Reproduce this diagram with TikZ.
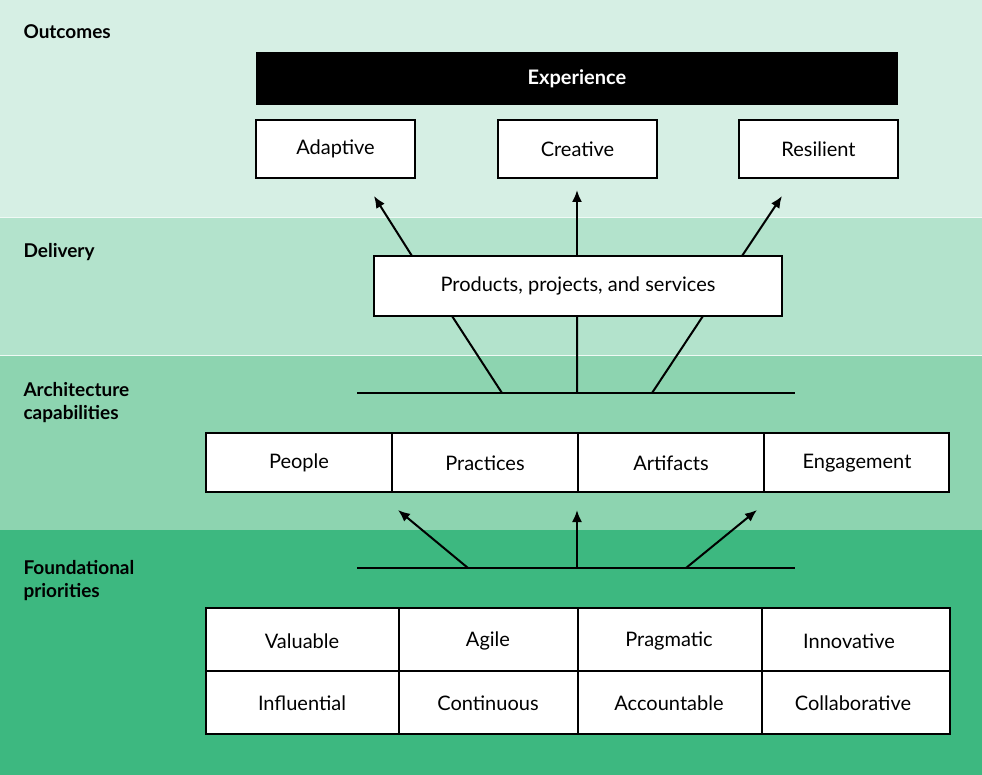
\documentclass[tikz,border=0pt]{standalone}
\usepackage{fontspec}
\setmainfont{Lato}
\usetikzlibrary{arrows.meta}
\definecolor{bandA}{HTML}{D6EFE4}
\definecolor{bandB}{HTML}{B3E3CC}
\definecolor{bandC}{HTML}{8DD4B0}
\definecolor{bandD}{HTML}{3DB880}
\begin{document}
\begin{tikzpicture}[x=1pt,y=-1pt,
  box/.style={draw=black,line width=1.6pt,fill=white,font=\fontsize{20}{24}\selectfont},
  lbl/.style={anchor=west,font=\bfseries\fontsize{19}{23}\selectfont,align=left},
  ln/.style={line width=2pt},
  arr/.style={line width=2pt,-{Latex[length=12pt,width=10pt]}},
  cell/.style={font=\fontsize{20}{24}\selectfont}]
\useasboundingbox (0,0) rectangle (982,775);
\fill[bandA] (0,0) rectangle (982,217);
\fill[bandB] (0,217) rectangle (982,355);
\fill[bandC] (0,355) rectangle (982,530);
\fill[bandD] (0,530) rectangle (982,775);
\draw[white!80!bandB,line width=0.8pt] (0,217)--(982,217) (0,355)--(982,355);

\node[lbl] (l1) at (20,32) {Outcomes};
\node[lbl] (l2) at (20,252) {Delivery};
\node[lbl,text width=160pt] (l3) at (20,403) {Architecture\\capabilities};
\node[lbl,text width=160pt] (l4) at (20,581) {Foundational\\priorities};

\node[fill=black,minimum width=642pt,minimum height=53pt,inner sep=0pt,text=white,font=\bfseries\fontsize{20}{24}\selectfont] (exp) at (577,78.5) {Experience};
\node[box,minimum width=159pt,minimum height=58pt,inner sep=0pt] (ad) at (335.5,149) {Adaptive};
\node[box,minimum width=159pt,minimum height=58pt,inner sep=0pt] (cr) at (577.5,149) {Creative};
\node[box,minimum width=159pt,minimum height=58pt,inner sep=0pt] (re) at (818.5,149) {Resilient};
\node[box,minimum width=408pt,minimum height=60pt,inner sep=0pt] (pp) at (578,286) {Products, projects, and services};

\coordinate (a1) at (412,256); \coordinate (a1e) at (374,196);
\coordinate (a2) at (577,256); \coordinate (a2e) at (577,190);
\coordinate (a3) at (742,256); \coordinate (a3e) at (782,196);
\draw[arr] (a1)--(a1e); \draw[arr] (a2)--(a2e); \draw[arr] (a3)--(a3e);

\coordinate (h1l) at (357,393); \coordinate (h1r) at (795,393);
\draw[ln] (h1l)--(h1r);
\draw[ln] (502,393)--(452,316) (577,393)--(577,316) (652,393)--(703,316);

\draw[box] (206,433) rectangle (949,492);
\draw[line width=1.6pt] (392,433)--(392,492) (578,433)--(578,492) (764,433)--(764,492);
\node[cell] (c1) at (299,463) {People};
\node[cell] (c2) at (485,463) {Practices};
\node[cell] (c3) at (671,463) {Artifacts};
\node[cell] (c4) at (857,463) {Engagement};

\coordinate (h2l) at (357,568); \coordinate (h2r) at (795,568);
\draw[ln] (h2l)--(h2r);
\draw[arr] (468,568)--(398,510);
\draw[arr] (577,568)--(577,510);
\draw[arr] (686,568)--(757,510);

\draw[box] (206,608) rectangle (950,734);
\draw[line width=1.6pt] (206,671)--(950,671) (399,608)--(399,734) (578,608)--(578,734) (762,608)--(762,734);
\node[cell] (p1) at (302,641) {Valuable};
\node[cell] (p2) at (488,641) {Agile};
\node[cell] (p3) at (669,641) {Pragmatic};
\node[cell] (p4) at (849,641) {Innovative};
\node[cell] (p5) at (302,703) {Influential};
\node[cell] (p6) at (488,703) {Continuous};
\node[cell] (p7) at (669,703) {Accountable};
\node[cell] (p8) at (853,703) {Collaborative};
\end{tikzpicture}
\end{document}
